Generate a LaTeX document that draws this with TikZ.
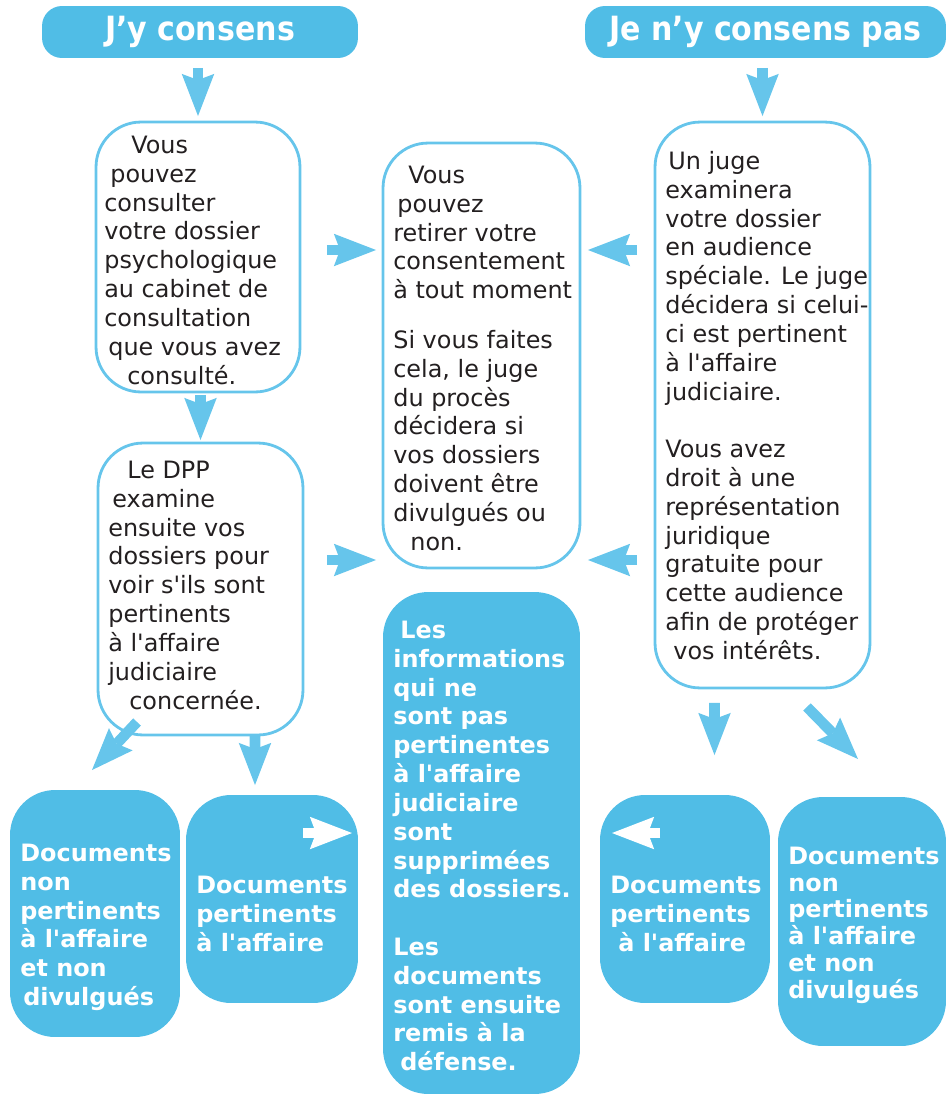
\documentclass[tikz,border=0pt]{standalone}
\usepackage{fontspec}
\setmainfont{DejaVu Sans}
\newfontfamily\condfont{DejaVu Sans Condensed}
\usetikzlibrary{arrows.meta}

\definecolor{boxblue}{RGB}{80,189,230}
\definecolor{lineblue}{RGB}{102,197,235}
\definecolor{textgray}{RGB}{35,31,32}
\newcommand{\apos}{\textquotesingle}

\tikzset{
  headbox/.style={fill=boxblue, rounded corners=0.4cm, minimum height=1.04cm, inner sep=0, outer sep=0,
    text=white, font=\condfont\bfseries\fontsize{19}{22}\selectfont},
  whitebox/.style={draw=lineblue, line width=1.6pt, rounded corners=0.9cm, inner sep=0, outer sep=0},
  bluebox/.style={fill=boxblue, rounded corners=0.9cm, inner sep=0, outer sep=0},
  boxtext/.style={anchor=north west, align=left, inner sep=0, text=textgray,
    font=\fontsize{13.6}{16.4}\selectfont},
  boldtext/.style={boxtext, text=white, font=\bfseries\fontsize{13.6}{16.4}\selectfont},
  bigarrow/.style={draw=lineblue, line width=6pt,
    -{Stealth[length=24pt, width=18.5pt, inset=3.5pt, line width=0pt]}},
  whitearrow/.style={bigarrow, draw=white},
}

\begin{document}
\begin{tikzpicture}[x=0.02cm, y=-0.02cm]
		\useasboundingbox (0,0) rectangle (950,1096);

		% Draw headers
		\node[headbox, minimum width=6.32cm] (consent) at (200,32) {J’y consens};
		\node[headbox, minimum width=7.22cm] (refuse) at (765.5,32) {Je n’y consens pas};

		% Draw white boxes
		\node[whitebox, minimum width=4.08cm, minimum height=5.40cm] (consult) at (198,257) {};
		\node[whitebox, minimum width=3.94cm, minimum height=8.50cm] (withdraw) at (481.5,355.5) {};
		\node[whitebox, minimum width=4.30cm, minimum height=11.32cm] (judge) at (762.5,405) {};
		\node[whitebox, minimum width=4.10cm, minimum height=5.84cm] (dpp) at (200.5,589) {};

		% Draw blue boxes
		\node[bluebox, minimum width=3.94cm, minimum height=10.04cm] (removed) at (481.5,843) {};
		\node[bluebox, minimum width=3.40cm, minimum height=4.94cm] (nonpertL) at (95,913.5) {};
		\node[bluebox, minimum width=3.44cm, minimum height=4.16cm] (pertL) at (272,899) {};
		\node[bluebox, minimum width=3.40cm, minimum height=4.16cm] (pertR) at (685,899) {};
		\node[bluebox, minimum width=3.36cm, minimum height=4.98cm] (nonpertR) at (862,921.5) {};

		% Draw texts
		\node[boxtext] (consult-txt) at (104,133) {\strut\hspace*{0.54cm}Vous\\ \hspace*{0.12cm}pouvez\\ consulter\\ votre dossier\\ psychologique\\ au cabinet de\\ consultation\\ \hspace*{0.08cm}que vous avez\\ \hspace*{0.46cm}consulté.};
		\node[boxtext] (withdraw-txt) at (393,163) {\strut\hspace*{0.3cm}Vous\\ \hspace*{0.08cm}pouvez\\ retirer votre\\ consentement\\ à tout moment\\[11.9pt] Si vous faites\\ cela, le juge\\ du procès\\ décidera si\\ vos dossiers\\ doivent être\\ divulgués ou\\ \hspace*{0.34cm}non.};
		\node[boxtext] (judge-txt) at (665,149) {\strut\hspace*{0.06cm}Un juge\\ examinera\\ votre dossier\\ en audience\\ spéciale. Le juge\\ décidera si celui-\\ ci est pertinent\\ à l\apos affaire\\ judiciaire.\\[16.4pt] Vous avez\\ droit à une\\ représentation\\ juridique\\ gratuite pour\\ cette audience\\ afin de protéger\\ \hspace*{0.16cm}vos intérêts.};
		\node[boxtext] (dpp-txt) at (108,458) {\strut\hspace*{0.38cm}Le DPP\\ \hspace*{0.08cm}examine\\ ensuite vos\\ dossiers pour\\ voir s\apos ils sont\\ pertinents\\ à l\apos affaire\\ judiciaire\\ \hspace*{0.42cm}concernée.};
		\node[boldtext] (removed-txt) at (393,618) {\strut\hspace*{0.14cm}Les\\ informations\\ qui ne\\ sont pas\\ pertinentes\\ à l\apos affaire\\ judiciaire\\ sont\\ supprimées\\ des dossiers.\\[16.4pt] Les\\ documents\\ sont ensuite\\ remis à la\\ \hspace*{0.14cm}défense.};
		\node[boldtext] (nonpertL-txt) at (20,841) {\strut Documents\\ non\\ pertinents\\ à l\apos affaire\\ et non\\ \hspace*{0.06cm}divulgués};
		\node[boldtext] (pertL-txt) at (196,873) {\strut Documents\\ pertinents\\ à l\apos affaire};
		\node[boldtext] (pertR-txt) at (610,873) {\strut Documents\\ pertinents\\ \hspace*{0.16cm}à l\apos affaire};
		\node[boldtext, font=\bfseries\fontsize{13.6}{15.3}\selectfont] (nonpertR-txt) at (788,845) {\strut Documents\\ non\\ pertinents\\ à l\apos affaire\\ et non\\ divulgués};

		% Draw arrows
		\coordinate (row1) at (0,250);
		\coordinate (row2) at (0,560);
		\draw[bigarrow, shorten <=0.2cm, shorten >=0.12cm] (consult.north |- consent.south) -- (consult.north);
		\draw[bigarrow, shorten <=0.2cm, shorten >=0.12cm] (judge.north |- refuse.south) -- (judge.north);
		\draw[bigarrow, shorten <=0.06cm, shorten >=0.06cm] (dpp.north |- consult.south) -- (dpp.north);
		\draw[bigarrow, shorten <=0.54cm, shorten >=0.14cm] (consult.east |- row1) -- (withdraw.west |- row1);
		\draw[bigarrow, shorten <=0.48cm, shorten >=0.14cm] (dpp.east |- row2) -- (withdraw.west |- row2);
		\draw[bigarrow, shorten <=0.36cm, shorten >=0.16cm] (judge.west |- row1) -- (withdraw.east |- row1);
		\draw[bigarrow, shorten <=0.36cm, shorten >=0.16cm] (judge.west |- row2) -- (withdraw.east |- row2);
		\draw[bigarrow] ([xshift=-1.27cm, yshift=0.26cm]dpp.south) -- ([xshift=-0.06cm, yshift=0.4cm]nonpertL.north);
		\draw[bigarrow] ([xshift=1.09cm]dpp.south) -- ([xshift=-0.34cm, yshift=0.2cm]pertL.north);
		\draw[bigarrow] ([xshift=-0.96cm, yshift=-0.3cm]judge.south) -- ([xshift=0.59cm, yshift=0.8cm]pertR.north);
		\draw[bigarrow] ([xshift=0.89cm, yshift=-0.38cm]judge.south) -- ([xshift=-0.08cm, yshift=0.76cm]nonpertR.north);

		% Draw white arrows
		\draw[whitearrow] ([xshift=-1.1cm, yshift=-0.76cm]pertL.north east) -- ([xshift=-0.12cm, yshift=-0.76cm]pertL.north east);
		\draw[whitearrow] ([xshift=1.2cm, yshift=-0.76cm]pertR.north west) -- ([xshift=0.24cm, yshift=-0.76cm]pertR.north west);
	\end{tikzpicture}
\end{document}
